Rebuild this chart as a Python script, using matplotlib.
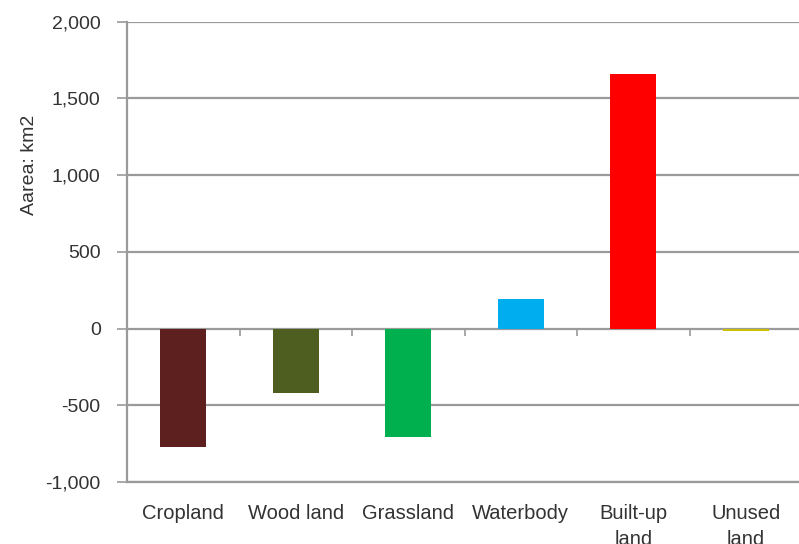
import matplotlib
matplotlib.use("Agg")
import matplotlib.pyplot as plt
import numpy as np

categories = ["Cropland", "Wood land", "Grassland", "Waterbody", "Built-up\nland", "Unused\nland"]
area_change = [-772, -423, -705, 192, 1660, -15]
bar_colors = ["#5E1F1F", "#4E5E20", "#00B04F", "#00AEEF", "#FF0000", "#C8C000"]
y_ticks = [-1000, -500, 0, 500, 1000, 1500, 2000]

plt.rcParams['font.family'] = ['Liberation Sans', 'DejaVu Sans']
txt_color = '#333333'
line_color = '#9a9a9a'

fig = plt.figure(figsize=(7.99, 5.44), dpi=100)
ax = fig.add_axes([0.159, 0.114, 0.845, 0.846])

x = np.arange(len(categories))
ax.set_axisbelow(True)
ax.grid(True, axis='y', color=line_color, linewidth=1.6)
ax.bar(x, area_change, width=0.41, color=bar_colors)

ax.set_xlim(-0.5, len(categories) - 0.5)
ax.set_ylim(-1000, 2000)
ax.set_yticks(y_ticks)
ax.set_yticklabels([f"{v:,}" for v in y_ticks])
ax.set_xticks(x)
ax.set_xticklabels(categories, fontsize=14.5, color=txt_color, linespacing=1.45)
ax.tick_params(axis='x', length=0, pad=16)
ax.tick_params(axis='y', length=7, width=1.2, color=line_color, labelsize=14,
               labelcolor=txt_color, pad=12)
ax.set_ylabel("Aarea: km2", fontsize=14, color=txt_color)
ax.yaxis.set_label_coords(-0.132, 0.689)

for side in ['top', 'right']:
    ax.spines[side].set_visible(False)
for side in ['left', 'bottom']:
    ax.spines[side].set_color(line_color)
    ax.spines[side].set_linewidth(1.6)

# small category separators hanging below the zero line
sec = ax.secondary_xaxis(1 / 3)
sec.set_xticks(np.arange(len(categories) + 1) - 0.5)
sec.set_xticklabels([])
sec.tick_params(length=5, width=1.2, color=line_color)
sec.spines['bottom'].set_visible(False)

fig.savefig("out.png", dpi=100)
